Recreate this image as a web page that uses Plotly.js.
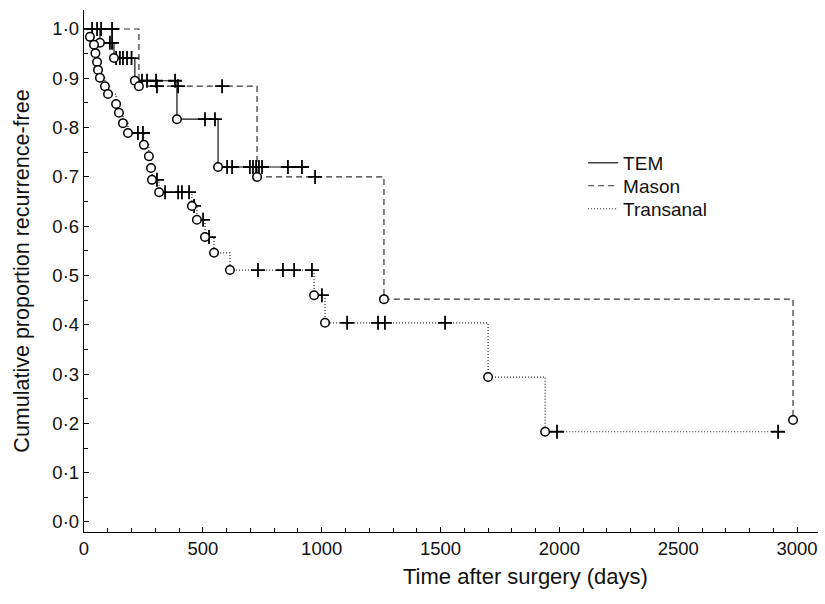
<!DOCTYPE html>
<html>
<head>
<meta charset="utf-8">
<script src="https://cdn.plot.ly/plotly-3.0.1.min.js"></script>
<style>html,body{margin:0;padding:0;background:#fff;}#chart{width:825px;height:604px;}</style>
</head>
<body>
<div id="chart"></div>
<script>
// ---- Data (days, cumulative proportion recurrence-free) ----
const seriesNames = ['TEM', 'Mason', 'Transanal'];

const temEventDays = [67, 126, 214, 391, 564];
const temEventSurv = [0.972, 0.941, 0.895, 0.817, 0.720];
const temCensorDays = [109, 118, 135, 151, 164, 181, 200, 244, 265, 303, 383, 509, 551, 602, 623, 698, 711, 724, 736, 749, 858, 917];
const temEndDay = 917;

const masonEventDays = [231, 728, 1262, 2983];
const masonEventSurv = [0.884, 0.700, 0.452, 0.207];
const masonCensorDays = [34, 55, 72, 118, 307, 396, 581, 972];
const masonEndDay = 2983;

const transEventDays = [25, 42, 48, 55, 59, 67, 88, 101, 135, 147, 164, 185, 252, 273, 282, 286, 316, 454, 475, 509, 547, 614, 968, 1014, 1700, 1940];
const transEventSurv = [0.984, 0.968, 0.951, 0.933, 0.917, 0.901, 0.884, 0.868, 0.848, 0.830, 0.809, 0.789, 0.765, 0.742, 0.718, 0.694, 0.669, 0.641, 0.613, 0.578, 0.546, 0.511, 0.460, 0.404, 0.294, 0.183];
const transCensorDays = [227, 248, 307, 341, 396, 412, 442, 463, 501, 526, 732, 837, 884, 959, 1001, 1107, 1237, 1266, 1519, 1990, 2920];
const transEndDay = 2920;

const xTickVals = [0, 500, 1000, 1500, 2000, 2500, 3000];
const yTickVals = [0, 0.1, 0.2, 0.3, 0.4, 0.5, 0.6, 0.7, 0.8, 0.9, 1.0];
const yTickText = yTickVals.map(v => v.toFixed(1).replace('.', '\u00B7'));
const xTitle = 'Time after surgery (days)';
const yTitle = 'Cumulative proportion recurrence-free';

// ---- helpers ----
function survAt(t, days, surv) {
  let s = 1;
  for (let i = 0; i < days.length; i++) { if (days[i] <= t) s = surv[i]; }
  return s;
}
function stepTrace(name, days, surv, endDay, dash, color, legendId) {
  return {
    type: 'scatter', mode: 'lines', name: name, legend: legendId,
    x: [0].concat(days, [endDay]),
    y: [1].concat(surv, [surv[surv.length - 1]]),
    line: {shape: 'hv', color: color, width: 1.2, dash: dash},
    hoverinfo: 'skip'
  };
}
function eventTrace(days, surv) {
  return {
    type: 'scatter', mode: 'markers', showlegend: false,
    x: days, y: surv,
    marker: {symbol: 'circle', size: 8.5, color: '#fff', line: {color: '#000', width: 1.5}},
    hoverinfo: 'skip'
  };
}
function censorTrace(cdays, days, surv) {
  return {
    type: 'scatter', mode: 'markers', showlegend: false,
    x: cdays, y: cdays.map(t => survAt(t, days, surv)),
    marker: {symbol: 'cross-thin-open', size: 10, color: '#000', line: {color: '#000', width: 1.8}},
    hoverinfo: 'skip'
  };
}

const traces = [
  stepTrace(seriesNames[0], temEventDays, temEventSurv, temEndDay, 'solid', '#111', 'legend'),
  stepTrace(seriesNames[1], masonEventDays, masonEventSurv, masonEndDay, '6px,4px', '#333', 'legend2'),
  stepTrace(seriesNames[2], transEventDays, transEventSurv, transEndDay, '1px,2px', '#222', 'legend3'),
  censorTrace(temCensorDays, temEventDays, temEventSurv),
  censorTrace(masonCensorDays, masonEventDays, masonEventSurv),
  censorTrace(transCensorDays, transEventDays, transEventSurv),
  eventTrace(temEventDays, temEventSurv),
  eventTrace(masonEventDays, masonEventSurv),
  eventTrace(transEventDays, transEventSurv)
];

const font = 'Arial, "Liberation Sans", Helvetica, sans-serif';
function legendAt(y) {
  return {x: 0.680, y: y, xanchor: 'left', yanchor: 'middle', bgcolor: 'rgba(0,0,0,0)',
          font: {family: font, size: 19, color: '#111'}};
}
const layout = {
  width: 825, height: 604,
  margin: {l: 84, r: 7, t: 10, b: 72},
  paper_bgcolor: '#fff', plot_bgcolor: '#fff',
  font: {family: font, color: '#111', size: 18},
  showlegend: true,
  legend: legendAt(0.707),
  legend2: legendAt(0.663),
  legend3: legendAt(0.619),
  xaxis: {
    range: [0, 3088], showgrid: false, zeroline: false,
    showline: true, linecolor: '#000', linewidth: 1.2,
    tickmode: 'array', tickvals: xTickVals, ticktext: xTickVals.map(String),
    ticks: 'inside', ticklen: 5, tickcolor: '#000', tickwidth: 1,
    minor: {dtick: 100, tick0: 0, ticks: 'inside', ticklen: 4, tickcolor: '#000', showgrid: false},
    tickfont: {family: font, size: 18.5, color: '#111'}
  },
  yaxis: {
    range: [-0.0203, 1.0385], showgrid: false, zeroline: false,
    showline: true, linecolor: '#000', linewidth: 1.2,
    tickmode: 'array', tickvals: yTickVals, ticktext: yTickText,
    ticks: 'inside', ticklen: 5, tickcolor: '#000', tickwidth: 1,
    minor: {dtick: 0.05, tick0: 0, ticks: 'inside', ticklen: 4, tickcolor: '#000', showgrid: false},
    tickfont: {family: font, size: 18.5, color: '#111'},
    title: {text: yTitle, font: {family: font, size: 21.5, color: '#111'}, standoff: 16}
  },
  annotations: [{
    text: xTitle, xref: 'paper', yref: 'paper', x: 0.601, y: -0.0862,
    xanchor: 'center', yanchor: 'middle', showarrow: false,
    font: {family: font, size: 22, color: '#111'}
  }]
};

Plotly.newPlot('chart', traces, layout, {displayModeBar: false, staticPlot: true});
</script>
</body>
</html>
